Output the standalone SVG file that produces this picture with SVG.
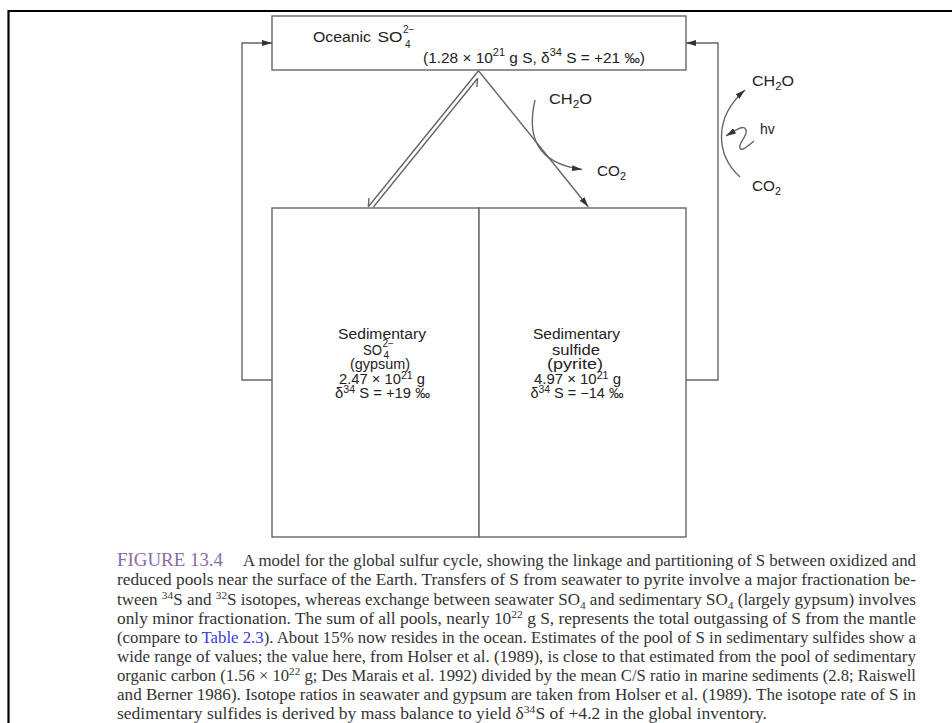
<svg xmlns="http://www.w3.org/2000/svg" width="952" height="723" viewBox="0 0 952 723">
<defs>
<style>
.box{fill:#fff;stroke:#666;stroke-width:1.4}
.ln{fill:none;stroke:#666;stroke-width:1.4}
.t{font-family:"Liberation Sans",Arial,sans-serif;font-size:14px;fill:#222}
.s{font-size:10px}
.cap{font-family:"Liberation Serif","Times New Roman",serif;font-size:16.5px;fill:#333}
.fig{font-family:"Liberation Serif","Times New Roman",serif;font-size:19px;fill:#8b6aa8}
.link{fill:#3a3ae0}
</style>
<marker id="ah" viewBox="0 0 10 6" refX="10" refY="3" markerWidth="10" markerHeight="6" markerUnits="userSpaceOnUse" orient="auto"><path d="M0,0 L10,3 L0,6 z" fill="#333"/></marker>
</defs>
<rect width="952" height="723" fill="#fff"/>
<path d="M8.5,723 V11 H952" fill="none" stroke="#000" stroke-width="2.2"/>

<g id="oceanic">
<rect class="box" x="272" y="16" width="414" height="54"/>
<text class="t" x="313" y="42" textLength="58" lengthAdjust="spacingAndGlyphs">Oceanic</text>
<text class="t" x="377.5" y="42" textLength="25" lengthAdjust="spacingAndGlyphs">SO</text>
<text class="t s" x="403" y="33">2−</text>
<text class="t s" x="405" y="47.5">4</text>
<text class="t" x="423" y="63" textLength="222" lengthAdjust="spacingAndGlyphs">(1.28 × 10<tspan class="s" dy="-7">21</tspan><tspan dy="7"> g S, δ</tspan><tspan class="s" dy="-7">34</tspan><tspan dy="7"> S = +21 ‰)</tspan></text>
</g>

<g id="sed-sulfate">
<rect class="box" x="272" y="208" width="207" height="329"/>
<text class="t" x="382" y="339" text-anchor="middle" textLength="88" lengthAdjust="spacingAndGlyphs">Sedimentary</text>
<text class="t" x="382" y="355" text-anchor="end" textLength="19" lengthAdjust="spacingAndGlyphs">SO</text>
<text class="t s" x="382.5" y="347">2−</text>
<text class="t s" x="383.5" y="359">4</text>
<text class="t" x="380" y="368.5" text-anchor="middle" textLength="60" lengthAdjust="spacingAndGlyphs">(gypsum)</text>
<text class="t" x="382" y="384" text-anchor="middle" textLength="86" lengthAdjust="spacingAndGlyphs">2.47 × 10<tspan class="s" dy="-5">21</tspan><tspan dy="5"> g</tspan></text>
<text class="t" x="382.5" y="397.5" text-anchor="middle" textLength="95" lengthAdjust="spacingAndGlyphs">δ<tspan class="s" dy="-5">34</tspan><tspan dy="5"> S = +19 ‰</tspan></text>
</g>

<g id="sed-sulfide">
<rect class="box" x="479" y="208" width="207" height="329"/>
<text class="t" x="576.5" y="339" text-anchor="middle" textLength="87" lengthAdjust="spacingAndGlyphs">Sedimentary</text>
<text class="t" x="576" y="355" text-anchor="middle" textLength="48" lengthAdjust="spacingAndGlyphs">sulfide</text>
<text class="t" x="575" y="368.5" text-anchor="middle" textLength="56" lengthAdjust="spacingAndGlyphs">(pyrite)</text>
<text class="t" x="577.5" y="384" text-anchor="middle" textLength="87" lengthAdjust="spacingAndGlyphs">4.97 × 10<tspan class="s" dy="-5">21</tspan><tspan dy="5"> g</tspan></text>
<text class="t" x="577" y="397.5" text-anchor="middle" textLength="93" lengthAdjust="spacingAndGlyphs">δ<tspan class="s" dy="-5">34</tspan><tspan dy="5"> S = −14 ‰</tspan></text>
</g>

<g id="labels">
<text class="t" x="549" y="104" textLength="43" lengthAdjust="spacingAndGlyphs">CH<tspan class="s" dy="4">2</tspan><tspan dy="-4">O</tspan></text>
<text class="t" x="597" y="176" textLength="29" lengthAdjust="spacingAndGlyphs">CO<tspan class="s" dy="4">2</tspan></text>
<text class="t" x="752" y="86" textLength="42" lengthAdjust="spacingAndGlyphs">CH<tspan class="s" dy="4">2</tspan><tspan dy="-4">O</tspan></text>
<text class="t" x="760" y="134">hv</text>
<text class="t" x="752" y="191" textLength="29" lengthAdjust="spacingAndGlyphs">CO<tspan class="s" dy="4">2</tspan></text>
</g>

<g id="connectors">
<path class="ln" d="M272,380 H242 V43 H272" marker-end="url(#ah)"/>
<path class="ln" d="M686,380 H718 V43 H686" marker-end="url(#ah)"/>
<path class="ln" d="M478.5,70.7 L588.3,206.7" marker-end="url(#ah)"/>
<path class="ln" d="M478.5,70.7 L368.3,206.7 M368.3,206.7 L369,198"/>
<path class="ln" d="M373.4,207 L477.7,78.3 M477.7,78.3 L476.8,87"/>
<path class="ln" d="M535,100 C527,135 535,163 582,169.5" marker-end="url(#ah)"/>
<path class="ln" d="M740,177 C716,155 713,118 745,90" marker-end="url(#ah)"/>
<path class="ln" d="M754,141 C748,146 741,152 740,148 C738,143 748,136 746,130 C744,124 736,130 726,136" marker-end="url(#ah)"/>
</g>

<g id="caption">
<text class="fig" x="117" y="566" textLength="106" lengthAdjust="spacingAndGlyphs">FIGURE 13.4</text>
<text class="cap" x="243" y="566" textLength="673" lengthAdjust="spacingAndGlyphs">A model for the global sulfur cycle, showing the linkage and partitioning of S between oxidized and</text>
<text class="cap" x="117" y="585" textLength="799" lengthAdjust="spacingAndGlyphs">reduced pools near the surface of the Earth. Transfers of S from seawater to pyrite involve a major fractionation be-</text>
<text class="cap" x="117" y="604.5" textLength="799" lengthAdjust="spacingAndGlyphs">tween <tspan font-size="11" dy="-6">34</tspan><tspan dy="6">S and </tspan><tspan font-size="11" dy="-6">32</tspan><tspan dy="6">S isotopes, whereas exchange between seawater SO</tspan><tspan font-size="11" dy="4">4</tspan><tspan dy="-4"> and sedimentary SO</tspan><tspan font-size="11" dy="4">4</tspan><tspan dy="-4"> (largely gypsum) involves</tspan></text>
<text class="cap" x="117" y="623.5" textLength="799" lengthAdjust="spacingAndGlyphs">only minor fractionation. The sum of all pools, nearly 10<tspan font-size="11" dy="-6">22</tspan><tspan dy="6"> g S, represents the total outgassing of S from the mantle</tspan></text>
<text class="cap" x="117" y="643" textLength="799" lengthAdjust="spacingAndGlyphs">(compare to <tspan class="link">Table 2.3</tspan>). About 15% now resides in the ocean. Estimates of the pool of S in sedimentary sulfides show a</text>
<text class="cap" x="117" y="662" textLength="799" lengthAdjust="spacingAndGlyphs">wide range of values; the value here, from Holser et al. (1989), is close to that estimated from the pool of sedimentary</text>
<text class="cap" x="117" y="681" textLength="799" lengthAdjust="spacingAndGlyphs">organic carbon (1.56 × 10<tspan font-size="11" dy="-6">22</tspan><tspan dy="6"> g; Des Marais et al. 1992) divided by the mean C/S ratio in marine sediments (2.8; Raiswell</tspan></text>
<text class="cap" x="117" y="700" textLength="799" lengthAdjust="spacingAndGlyphs">and Berner 1986). Isotope ratios in seawater and gypsum are taken from Holser et al. (1989). The isotope rate of S in</text>
<text class="cap" x="117" y="719" textLength="650" lengthAdjust="spacingAndGlyphs">sedimentary sulfides is derived by mass balance to yield δ<tspan font-size="11" dy="-6">34</tspan><tspan dy="6">S of +4.2 in the global inventory.</tspan></text>
</g>
</svg>
